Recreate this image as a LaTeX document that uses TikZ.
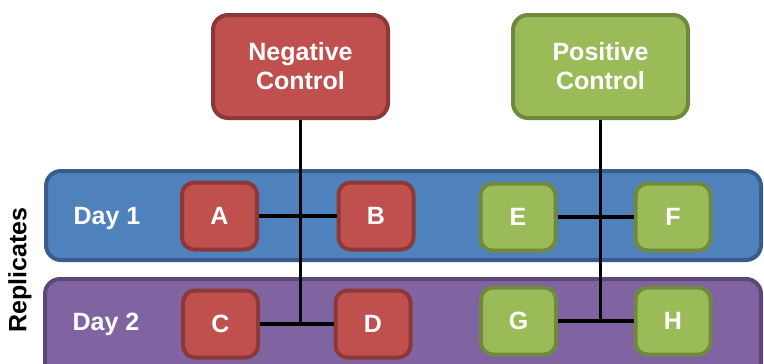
\documentclass[tikz,border=0pt]{standalone}
\usepackage{fontspec}
\setmainfont{Liberation Sans}
\definecolor{redfill}{HTML}{C0504D}
\definecolor{redline}{HTML}{8C3836}
\definecolor{greenfill}{HTML}{9BBB59}
\definecolor{greenline}{HTML}{71893F}
\definecolor{bluefill}{HTML}{4F81BD}
\definecolor{blueline}{HTML}{385D8A}
\definecolor{purpfill}{HTML}{8064A2}
\definecolor{purpline}{HTML}{5C4776}
\tikzset{
  txt/.style={font=\fontsize{25}{28}\selectfont\bfseries},
  bigbox/.style={rounded corners=15pt, line width=4pt, minimum width=175pt, minimum height=103pt, align=center, text=white, txt},
  smallbox/.style={rounded corners=12pt, line width=4pt, minimum width=75pt, minimum height=67pt, text=white, txt},
  redbox/.style={fill=redfill, draw=redline},
  greenbox/.style={fill=greenfill, draw=greenline},
  band/.style={rounded corners=15pt, line width=4pt},
  conn/.style={line width=3.6pt, black}
}
\begin{document}
\begin{tikzpicture}[x=1pt,y=-1pt]
\clip (0,0) rectangle (764,364);
\fill[white] (0,0) rectangle (764,364);
% bands
\draw[band, fill=bluefill, draw=blueline] (46,171) rectangle (761,260);
\draw[band, fill=purpfill, draw=purpline] (45,279) rectangle (761,385);
\node[txt, text=white] (d1) at (107,218) {Day 1};
\node[txt, text=white] (d2) at (106,324) {Day 2};
\node[txt, rotate=90] (rep) at (20,270) {Replicates};
% controls
\node[bigbox, redbox] (neg) at (300.5,66.5) {Negative\\[1pt]Control};
\node[bigbox, greenbox] (pos) at (600.5,66.5) {Positive\\[1pt]Control};
% samples
\node[smallbox, redbox] (A) at (219.5,216) {A};
\node[smallbox, redbox] (B) at (376,216) {B};
\node[smallbox, redbox] (C) at (220.5,324) {C};
\node[smallbox, redbox] (D) at (373,324) {D};
\node[smallbox, greenbox] (E) at (518,217) {E};
\node[smallbox, greenbox] (F) at (673,217) {F};
\node[smallbox, greenbox] (G) at (518.5,321) {G};
\node[smallbox, greenbox] (H) at (673,321) {H};
% connectors
\draw[conn] (A.east) -- (B.west);
\draw[conn] (C.east) -- (D.west);
\draw[conn] (neg.south) -- (neg.south |- C.east);
\draw[conn] (E.east) -- (F.west);
\draw[conn] (G.east) -- (H.west);
\draw[conn] (pos.south) -- (pos.south |- G.east);
\end{tikzpicture}
\end{document}
